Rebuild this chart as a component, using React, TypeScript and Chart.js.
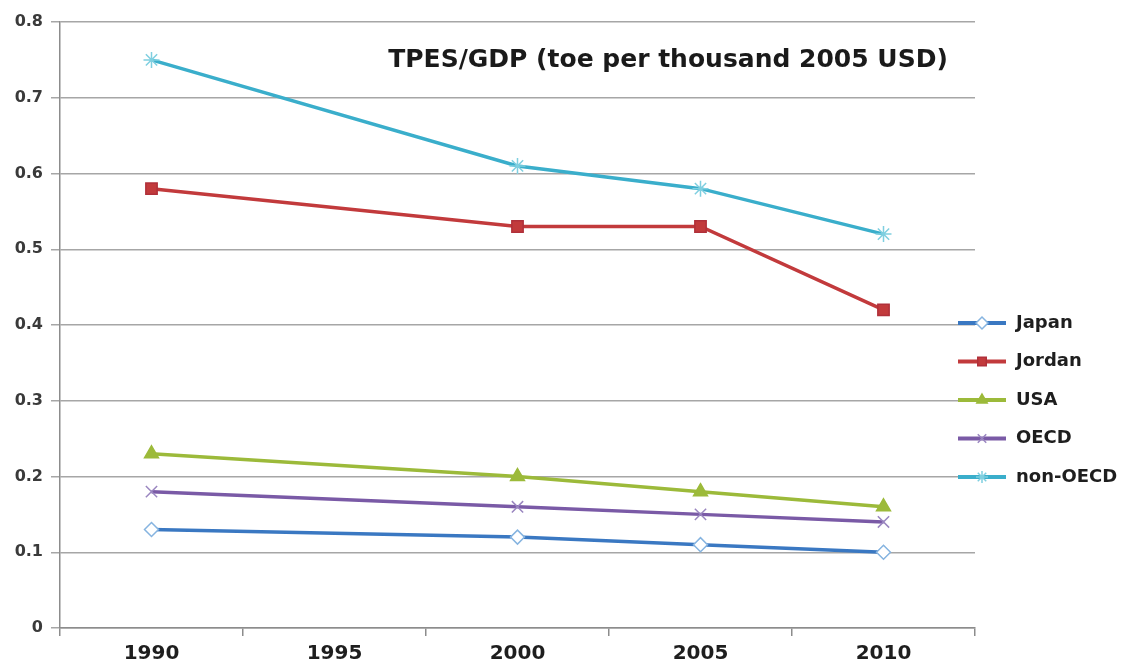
import React, { useEffect, useRef } from "react";
import { Chart, registerables } from "chart.js";
import { drawPoint } from "chart.js/helpers";

Chart.register(...registerables);

// Energy intensity, TPES/GDP (toe per thousand 2005 USD)
const years = ["1990", "1995", "2000", "2005", "2010"];
const japan = [0.13, null, 0.12, 0.11, 0.1];
const jordan = [0.58, null, 0.53, 0.53, 0.42];
const usa = [0.23, null, 0.2, 0.18, 0.16];
const oecd = [0.18, null, 0.16, 0.15, 0.14];
const nonOecd = [0.75, null, 0.61, 0.58, 0.52];

const titleText = "TPES/GDP (toe per thousand 2005 USD)";
const FONT = "'DejaVu Sans', Verdana, sans-serif";

const series = [
  { label: "Japan", data: japan, color: "#3a78c2", style: "rectRot", fill: "#ffffff", border: "#86b4e0", radius: 7 },
  { label: "Jordan", data: jordan, color: "#c23a3c", style: "rect", fill: "#c23a3c", border: "#b0303a", radius: 8 },
  { label: "USA", data: usa, color: "#9cba3a", style: "triangle", fill: "#9cba3a", border: "#9cba3a", radius: 8 },
  { label: "OECD", data: oecd, color: "#7a5aa6", style: "crossRot", fill: "#7a5aa6", border: "#9a86c0", radius: 8 },
  { label: "non-OECD", data: nonOecd, color: "#3aaecb", style: "star", fill: "#3aaecb", border: "#7fcfe0", radius: 8 },
];

const titlePlugin = {
  id: "innerTitle",
  afterDraw(chart: any) {
    const { ctx } = chart;
    ctx.save();
    ctx.font = `bold 25px ${FONT}`;
    ctx.fillStyle = "#1a1a1a";
    ctx.textAlign = "center";
    ctx.textBaseline = "middle";
    ctx.fillText(titleText, 668, 60);
    ctx.restore();
  },
};

const sideLegend = {
  id: "sideLegend",
  afterDraw(chart: any) {
    const { ctx } = chart;
    const top = 323;
    const step = 38.5;
    chart.data.datasets.forEach((ds: any, i: number) => {
      const y = top + i * step;
      ctx.save();
      ctx.strokeStyle = ds.borderColor;
      ctx.lineWidth = 4;
      ctx.beginPath();
      ctx.moveTo(958, y);
      ctx.lineTo(1006, y);
      ctx.stroke();
      ctx.fillStyle = ds.pointBackgroundColor;
      ctx.strokeStyle = ds.pointBorderColor;
      ctx.lineWidth = 1.5;
      drawPoint(ctx, { pointStyle: ds.pointStyle, radius: 6, rotation: 0, borderWidth: 1.5 }, 982, y);
      ctx.font = `bold 18px ${FONT}`;
      ctx.fillStyle = "#1e1e1e";
      ctx.textAlign = "left";
      ctx.textBaseline = "middle";
      ctx.fillText(ds.label, 1016, y);
      ctx.restore();
    });
  },
};

export default function App() {
  const ref = useRef<HTMLCanvasElement>(null);

  useEffect(() => {
    document.body.style.margin = "0";
    const chart = new Chart(ref.current as HTMLCanvasElement, {
      type: "line",
      data: {
        labels: years,
        datasets: series.map((s) => ({
          label: s.label,
          data: s.data,
          borderColor: s.color,
          backgroundColor: s.color,
          borderWidth: 3.5,
          spanGaps: true,
          tension: 0,
          pointStyle: s.style,
          pointRadius: s.radius,
          pointBackgroundColor: s.fill,
          pointBorderColor: s.border,
          pointBorderWidth: 1.5,
        })),
      },
      options: {
        responsive: false,
        animation: false,
        layout: { padding: { top: 22, right: 153, left: 0, bottom: 0 } },
        plugins: {
          legend: { display: false },
          title: { display: false },
          tooltip: { enabled: false },
        },
        scales: {
          x: {
            offset: true,
            grid: {
              offset: true,
              drawOnChartArea: false,
              tickLength: 8,
              color: "#8c8c8c",
              lineWidth: 1.5,
            },
            border: { color: "#8c8c8c", width: 1.5 },
            ticks: {
              color: "#1e1e1e",
              font: { family: FONT, size: 20, weight: "bold" },
              padding: 6,
              maxRotation: 0,
            },
            afterFit(scale: any) {
              scale.height = 36;
            },
          },
          y: {
            min: 0,
            max: 0.8,
            ticks: {
              stepSize: 0.1,
              color: "#3a3a3a",
              font: { family: FONT, size: 16, weight: "bold" },
              padding: 8,
              callback: (v: any) => (Math.round(Number(v) * 10) / 10).toString(),
            },
            grid: { color: "#a6a6a6", lineWidth: 1.5, tickLength: 9 },
            border: { color: "#8c8c8c", width: 1.5 },
            afterFit(scale: any) {
              scale.width = 60;
            },
          },
        },
      },
      plugins: [titlePlugin, sideLegend],
    });
    return () => chart.destroy();
  }, []);

  return <canvas ref={ref} width={1128} height={664} style={{ display: "block" }} />;
}
